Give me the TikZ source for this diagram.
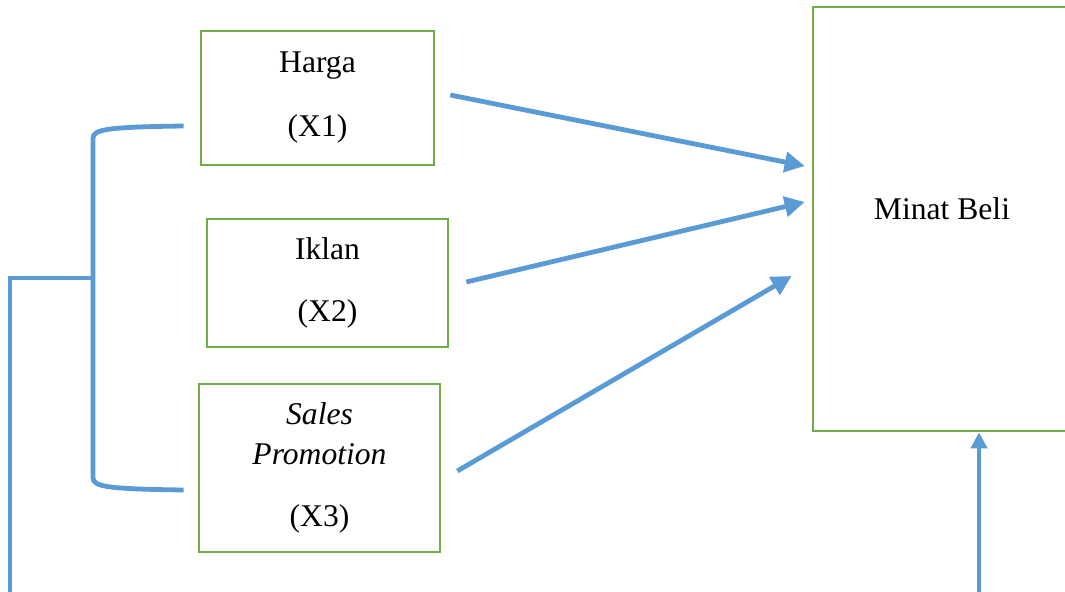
\documentclass[tikz,border=0pt]{standalone}
\usepackage{fontspec}
\setmainfont{Liberation Serif}
\usetikzlibrary{arrows.meta,calc}
\definecolor{lineblue}{HTML}{5B9BD5}
\definecolor{boxgreen}{HTML}{70AD47}
\begin{document}
\begin{tikzpicture}[x=0.75pt,y=-0.75pt,
  varbox/.style={draw=boxgreen,line width=2pt,fill=white,align=center,inner sep=0pt,
    font=\fontsize{23.7}{30}\selectfont},
  lbl/.style={inner sep=0pt,font=\fontsize{23.7}{30}\selectfont},
  conn/.style={draw=lineblue,line width=3.6pt},
  arr/.style={conn,-{Triangle[length=15pt,width=15pt]}},
  uparr/.style={conn,-{Triangle[length=12pt,width=12pt]}}]
\useasboundingbox (0,0) rectangle (1065,592);
% boxes
\node[varbox,minimum width=174.75pt,minimum height=100.5pt] (harga) at (317.5,98) {Harga\\[18pt](X1)};
\node[varbox,minimum width=180.75pt,minimum height=96pt] (iklan) at (327.5,283) {Iklan\\[17pt](X2)};
\node[varbox,minimum width=180.75pt,minimum height=126pt] (sales) at (319.5,468) {\itshape Sales\\[0pt]\itshape Promotion\\[17pt](X3)};
\node[draw=boxgreen,line width=2pt,minimum width=196.5pt,minimum height=318pt,inner sep=0pt] (minat) at (944,219) {};
\node[lbl] (minatlbl) at (942,209) {Minat Beli};
% arrows to Minat Beli
\draw[arr] ($(harga.east)+(15,-3)$) -- ($(minat.west)+(-7,-53)$);
\draw[arr] ($(iklan.east)+(17,-1)$) -- ($(minat.west)+(-7,-17)$);
\draw[arr] ($(sales.east)+(16,3)$) -- ($(minat.west)+(-20,57)$);
% bracket
\coordinate (bt) at ($(harga.west)+(-16,28)$);
\coordinate (bb) at ($(sales.west)+(-14,22)$);
\coordinate (bm) at (93,278);
\coordinate (fl) at (10,278);
\coordinate (fb) at (10,594);
\coordinate (fr) at ($(minat.south)+(35,0)$);
\draw[conn] (bt) .. controls (110,127) and (93,129) .. (93,138) -- (bm) -- (93,478)
  .. controls (93,487) and (110,489) .. (bb);
% feedback loop
\draw[uparr] (bm) -- (fl) -- (fb) -- (fb -| fr) -- (fr);
\end{tikzpicture}
\end{document}
